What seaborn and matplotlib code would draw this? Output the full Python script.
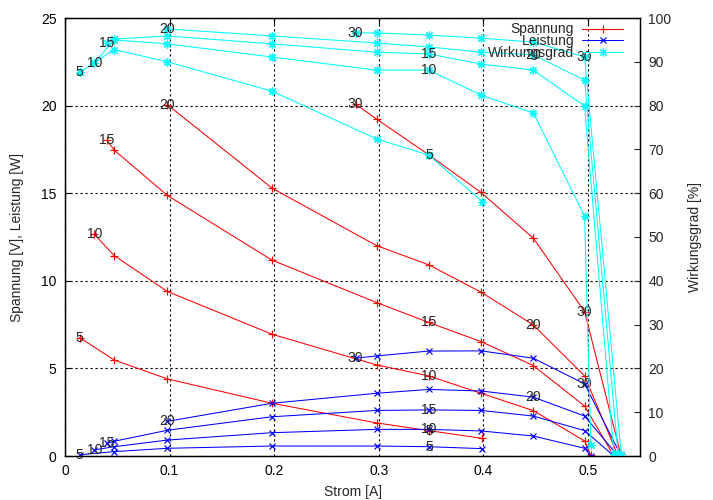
import matplotlib
matplotlib.use("Agg")
import matplotlib.pyplot as plt
from matplotlib.lines import Line2D
import seaborn as sns

# ---------------- data ----------------
params = [5, 10, 15, 20, 30]

current_5 = [0.014, 0.047, 0.098, 0.198, 0.298, 0.348, 0.399]
voltage_5 = [6.76, 5.48, 4.40, 3.01, 1.89, 1.45, 1.01]
power_5 = [0.07, 0.25, 0.44, 0.57, 0.57, 0.53, 0.42]
eff_5 = [87.6, 92.8, 90.0, 83.3, 72.4, 68.7, 58.1]

current_10 = [0.028, 0.047, 0.098, 0.198, 0.298, 0.348, 0.398, 0.448, 0.497, 0.503]
voltage_10 = [12.66, 11.44, 9.39, 6.95, 5.20, 4.57, 3.58, 2.59, 0.86, 0.03]
power_10 = [0.35, 0.53, 0.91, 1.33, 1.52, 1.52, 1.43, 1.14, 0.44, 0.0]
eff_10 = [89.7, 95.0, 94.1, 91.1, 88.1, 88.1, 82.4, 78.3, 54.8, 2.6]

current_15 = [0.040, 0.047, 0.098, 0.198, 0.298, 0.348, 0.398, 0.448, 0.497, 0.525]
voltage_15 = [18.03, 17.46, 14.87, 11.18, 8.76, 7.62, 6.53, 5.16, 2.85, 0.0]
power_15 = [0.72, 0.84, 1.47, 2.24, 2.60, 2.63, 2.60, 2.28, 1.45, 0.0]
eff_15 = [94.4, 95.2, 95.9, 94.1, 92.2, 91.8, 89.5, 88.1, 79.9, 0.5]

current_20 = [0.098, 0.198, 0.298, 0.348, 0.398, 0.448, 0.497, 0.529]
voltage_20 = [20.05, 15.29, 12.01, 10.91, 9.35, 7.48, 4.57, 0.0]
power_20 = [1.98, 3.01, 3.58, 3.80, 3.71, 3.36, 2.28, 0.0]
eff_20 = [97.5, 95.9, 94.3, 93.4, 92.2, 91.6, 85.8, 0.5]

current_30 = [0.278, 0.298, 0.348, 0.398, 0.448, 0.497, 0.532]
voltage_30 = [20.09, 19.23, 17.19, 15.04, 12.43, 8.24, 0.0]
power_30 = [5.58, 5.71, 5.99, 6.00, 5.58, 4.12, 0.0]
eff_30 = [96.6, 96.6, 96.1, 95.4, 94.5, 91.1, 0.5]

label_rows = [0, 5]

x_ticks = [0, 0.1, 0.2, 0.3, 0.4, 0.5]
x_ticklabels = ["0", "0.1", "0.2", "0.3", "0.4", "0.5"]
y_ticks = [0, 5, 10, 15, 20, 25]
y2_ticks = [0, 10, 20, 30, 40, 50, 60, 70, 80, 90, 100]

series_names = ["Spannung", "Leistung", "Wirkungsgrad"]
x_label = "Strom [A]"
y_label = "Spannung [V], Leistung [W]"
y2_label = "Wirkungsgrad [%]"

curves = {
    5: (current_5, voltage_5, power_5, eff_5),
    10: (current_10, voltage_10, power_10, eff_10),
    15: (current_15, voltage_15, power_15, eff_15),
    20: (current_20, voltage_20, power_20, eff_20),
    30: (current_30, voltage_30, power_30, eff_30),
}

# ---------------- style ----------------
sns.set_style("white")
plt.rcParams["font.family"] = ["Liberation Sans", "DejaVu Sans"]
plt.rcParams["font.size"] = 10

RED, BLUE, CYAN = "#ff0000", "#0000ff", "#00ffff"
STAR = (8, 2, 0)
lw = 0.75
mew = 0.85
styles = {
    "V": dict(color=RED, marker="+", markersize=5.5),
    "P": dict(color=BLUE, marker="x", markersize=4.0),
    "E": dict(color=CYAN, marker=STAR, markersize=6.0),
}

fig = plt.figure(figsize=(7.13, 5.0), dpi=100)
ax = fig.add_axes([65 / 713, 44 / 500, 575 / 713, 438 / 500])
ax2 = ax.twinx()


def draw(axis, xs, ys, key):
    st = styles[key]
    sns.lineplot(x=xs, y=ys, ax=axis, color=st["color"], marker=st["marker"],
                 markersize=st["markersize"], markeredgewidth=mew,
                 markeredgecolor=st["color"], markerfacecolor=st["color"],
                 linewidth=lw, sort=False, estimator=None)


for p in params:
    cx, v, pw, ef = curves[p]
    draw(ax, cx, v, "V")
    draw(ax, cx, pw, "P")
    draw(ax2, cx, ef, "E")
    for r in label_rows:
        if r < len(cx):
            ax.text(cx[r], v[r], str(p), ha="center", va="center", fontsize=10)
            ax.text(cx[r], pw[r], str(p), ha="center", va="center", fontsize=10)
            ax2.text(cx[r], ef[r], str(p), ha="center", va="center", fontsize=10)

ax.set_xlim(0, 0.55)
ax.set_ylim(0, 25)
ax2.set_ylim(0, 100)

ax.set_xticks(x_ticks)
ax.set_xticklabels(x_ticklabels)
ax.set_yticks(y_ticks)
ax2.set_yticks(y2_ticks)

ax.grid(True, color="black", linestyle=(0, (2, 2.5)), linewidth=0.8)
ax.set_axisbelow(True)

ax.tick_params(direction="in", length=4, width=0.8, top=True, right=False,
               labelsize=10, pad=6, colors="black")
ax2.tick_params(direction="in", length=4, width=0.8, labelsize=10, pad=6)

for a in (ax, ax2):
    for s in a.spines.values():
        s.set_color("black")
        s.set_linewidth(0.9)

ax.set_xlabel(x_label, fontsize=10, labelpad=5)
ax.set_ylabel(y_label, fontsize=10, labelpad=12)
ax2.set_ylabel(y2_label, fontsize=10, labelpad=12)

handles = [
    Line2D([], [], color=s["color"], marker=s["marker"], markersize=s["markersize"],
           markeredgewidth=mew, linewidth=lw)
    for s in styles.values()
]
leg = ax2.legend(handles, series_names, loc="upper right", bbox_to_anchor=(0.970, 0.99),
                 frameon=False, markerfirst=False, handlelength=2.9, handletextpad=0.6,
                 labelspacing=-0.15, borderaxespad=0, borderpad=0, fontsize=10)

fig.savefig("out.png", dpi=100, facecolor="white")
